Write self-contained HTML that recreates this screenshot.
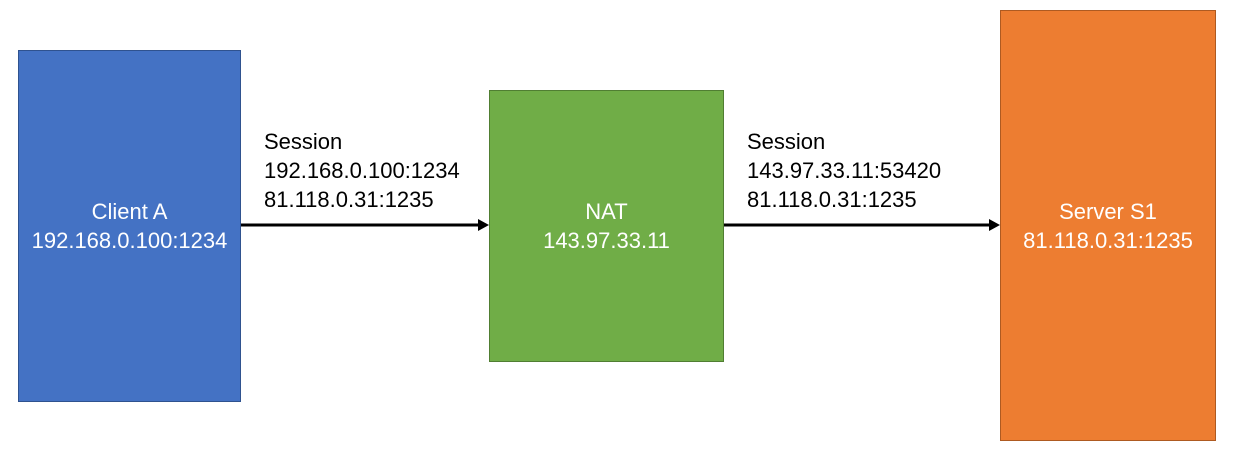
<!DOCTYPE html>
<html><head><style>
body{margin:0;width:1234px;height:458px;background:#fff;position:relative;font-family:"Liberation Sans","Noto Sans CJK SC",sans-serif;overflow:hidden}
.b{position:absolute;box-sizing:border-box;color:#fff;font-size:22px;line-height:29px;text-align:center;display:flex;align-items:center;justify-content:center}
.t{position:absolute;font-size:22px;line-height:29px;color:#000}
</style></head><body>
<div class="b" style="left:18px;top:50px;width:223px;height:352px;background:#4472c4;border:1px solid #2f528f">Client A<br>192.168.0.100:1234</div>
<div class="b" style="left:489px;top:90px;width:235px;height:272px;background:#70ad47;border:1px solid #507e32">NAT<br>143.97.33.11</div>
<div class="b" style="left:1000px;top:10px;width:216px;height:431px;background:#ed7d31;border:1px solid #ae5a21">Server S1<br>81.118.0.31:1235</div>
<div class="t" style="left:264px;top:127px">Session<br>192.168.0.100:1234<br>81.118.0.31:1235</div>
<div class="t" style="left:747px;top:127px">Session<br>143.97.33.11:53420<br>81.118.0.31:1235</div>
<svg width="1234" height="458" style="position:absolute;left:0;top:0">
<line x1="241" y1="225" x2="480" y2="225" stroke="#000" stroke-width="3"/>
<polygon points="489,225 478,219 478,231" fill="#000"/>
<line x1="724" y1="225" x2="991" y2="225" stroke="#000" stroke-width="3"/>
<polygon points="1000,225 989,219 989,231" fill="#000"/>
</svg>
</body></html>
